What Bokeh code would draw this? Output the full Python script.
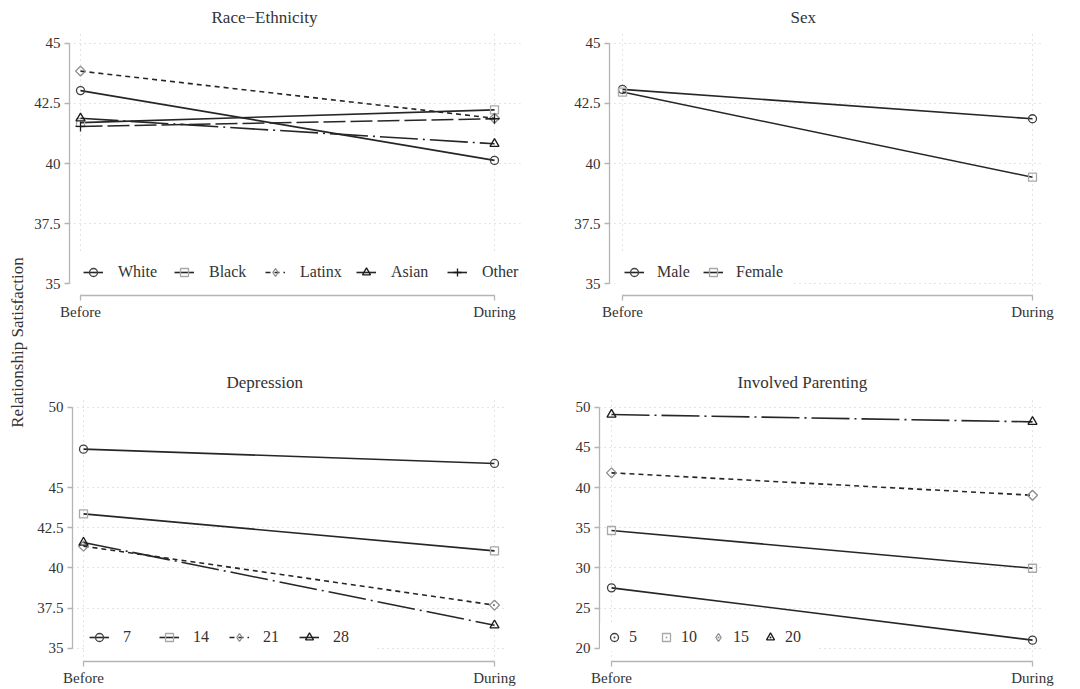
from bokeh.plotting import figure
from bokeh.models import (FixedTicker, NumeralTickFormatter, Legend, LegendItem,
                          Label, Range1d)
from bokeh.layouts import row, column
from bokeh.embed import file_html
from bokeh.resources import INLINE
import math

# ---------------- data ----------------
periods = [0, 1]
period_labels = ["Before", "During"]

race_groups = ["White", "Black", "Latinx", "Asian", "Other"]
race_before = [43.03, 41.70, 43.84, 41.88, 41.54]
race_during = [40.13, 42.23, 41.88, 40.82, 41.86]

sex_groups = ["Male", "Female"]
sex_before = [43.08, 42.97]
sex_during = [41.86, 39.43]

dep_groups = ["7", "14", "21", "28"]
dep_before = [47.39, 43.36, 41.35, 41.58]
dep_during = [46.50, 41.06, 37.68, 36.43]

par_groups = ["5", "10", "15", "20"]
par_before = [27.51, 34.65, 41.83, 49.09]
par_during = [21.00, 29.95, 39.04, 48.18]

race_ticks = [35, 37.5, 40, 42.5, 45]
sex_ticks = [35, 37.5, 40, 42.5, 45]
dep_ticks = [35, 37.5, 40, 42.5, 45, 50]
par_ticks = [20, 25, 30, 35, 40, 45, 50]

# ---------------- styles ----------------
FONT = "Liberation Serif"
TXT = "#333333"
AXC = "#b4b4b4"
GRIDC = "#c8c8c8"
LINEC = "#262626"

SOLID, SHORT, DASHDOT, LONG = "solid", "5 4", "38 5 2 5", "22 5"
# marker: (plot marker, legend marker, colour, size, angle)
MK = {
    "circle": ("circle", "circle", "#404040", 8, 0.0),
    "square": ("square", "square", "#a8a8a8", 8, 0.0),
    "diamond": ("square", "diamond", "#8c8c8c", 7, math.pi / 4),
    "triangle": ("triangle", "triangle", "#1a1a1a", 9, 0.0),
    "cross": ("cross", "cross", "#1a1a1a", 10, 0.0),
}
DOT = {"circle": "circle_dot", "square": "square_dot", "diamond": "diamond_dot",
       "triangle": "triangle_dot"}
race_styles = [("circle", SOLID), ("square", SOLID), ("diamond", SHORT),
               ("triangle", DASHDOT), ("cross", LONG)]
sex_styles = [("circle", SOLID), ("square", SOLID)]
dep_styles = [("circle", SOLID), ("square", SOLID), ("diamond", SHORT),
              ("triangle", DASHDOT)]
par_styles = [("circle", SOLID), ("square", SOLID), ("diamond", SHORT),
              ("triangle", DASHDOT)]


def make_panel(title, groups, before, during, styles, yticks, xr, yr, w, h,
               borders, title_offset, leg, dot_legend=False):
    bl, bt, br, bb = borders
    p = figure(width=w, height=h, x_range=Range1d(*xr), y_range=Range1d(*yr),
               output_backend="svg", toolbar_location=None,
               min_border_left=bl, min_border_top=bt, min_border_right=br,
               min_border_bottom=bb, title=title)
    p.outline_line_color = None
    p.background_fill_color = "white"
    p.title.align = "left"
    p.title.offset = title_offset
    p.title.standoff = 11
    p.title.text_font = FONT
    p.title.text_font_size = "17px"
    p.title.text_font_style = "normal"
    p.title.text_color = TXT

    # axes
    p.xaxis.ticker = FixedTicker(ticks=periods)
    p.xaxis.major_label_overrides = {periods[i]: period_labels[i] for i in range(2)}
    p.xaxis.bounds = (periods[0], periods[-1])
    p.yaxis.ticker = FixedTicker(ticks=yticks)
    p.yaxis.formatter = NumeralTickFormatter(format="0.[0]")
    p.yaxis.bounds = (yticks[0], yticks[-1])
    for ax in (p.xaxis, p.yaxis):
        ax.axis_line_color = AXC
        ax.axis_line_width = 1.3
        ax.major_tick_line_color = AXC
        ax.major_tick_line_width = 1.3
        ax.minor_tick_line_color = None
        ax.major_tick_in = 0
        ax.major_label_text_font = FONT
        ax.major_label_text_font_size = "15px"
        ax.major_label_text_color = TXT
    p.yaxis.major_tick_out = 5
    p.yaxis.major_label_standoff = 4
    p.xaxis.major_tick_out = 5
    p.xaxis.major_label_standoff = 3

    # grid
    p.xgrid.ticker = FixedTicker(ticks=periods)
    p.ygrid.ticker = FixedTicker(ticks=yticks)
    for g in (p.xgrid, p.ygrid):
        g.grid_line_color = GRIDC
        g.grid_line_dash = "1 4"
        g.grid_line_width = 1

    items = []
    for i, gname in enumerate(groups):
        mk, dash = styles[i]
        mtype, ltype, mcol, msize, mang = MK[mk]
        ys = [before[i], during[i]]
        ln = p.line(periods, ys, line_color=LINEC, line_width=1.6, line_dash=dash)
        sc = p.scatter(periods, ys, marker=mtype, size=msize, angle=mang,
                       line_color=mcol, fill_color=None, line_width=1.3)
        if dot_legend:
            dm = p.scatter(periods, ys, marker=DOT[mk], size=msize,
                           line_color=mcol, fill_color=None, line_width=1.3,
                           visible=False)
            items.append(LegendItem(label=gname, renderers=[dm]))
        elif ltype != mtype:
            lm = p.scatter(periods, ys, marker=ltype, size=msize,
                           line_color=mcol, fill_color=None, line_width=1.3,
                           visible=False)
            items.append(LegendItem(label=gname, renderers=[ln, lm]))
        else:
            items.append(LegendItem(label=gname, renderers=[ln, sc]))

    legend = Legend(items=items, orientation="horizontal", location=leg["loc"],
                    padding=leg["padding"], spacing=0, margin=0,
                    glyph_width=leg["gw"], glyph_height=leg["gh"],
                    label_standoff=leg["standoff"], label_width=leg["lw"],
                    label_text_font=FONT, label_text_font_size="16px",
                    label_text_color=TXT, background_fill_color="white",
                    background_fill_alpha=1.0, border_line_color="white",
                    border_line_width=1, click_policy="none",
                    inactive_fill_alpha=0)
    p.add_layout(legend, "center")
    return p


p1 = make_panel("Race\u2212Ethnicity", race_groups, race_before, race_during,
                race_styles, race_ticks, (-0.0266, 1.0628), (34.514, 45.445),
                524, 340, (41, 32, 32, 45), 142,
                dict(loc=(5, 3), padding=8, gw=20, gh=22, standoff=15, lw=56))
p2 = make_panel("Sex", sex_groups, sex_before, sex_during, sex_styles,
                sex_ticks, (-0.0317, 1.0268), (34.514, 45.445),
                528, 340, (57, 32, 37, 45), 181,
                dict(loc=(6, 3), padding=8, gw=20, gh=22, standoff=13, lw=46))
p3 = make_panel("Depression", dep_groups, dep_before, dep_during, dep_styles,
                dep_ticks, (-0.02676, 1.02676), (34.172, 50.604),
                524, 349, (44, 57, 47, 28), 154,
                dict(loc=(12, 8), padding=4, gw=20, gh=22, standoff=14, lw=36))
p4 = make_panel("Involved Parenting", par_groups, par_before, par_during,
                par_styles, par_ticks, (-0.0285, 1.0261), (18.34, 51.21),
                528, 349, (47, 57, 37, 28), 138,
                dict(loc=(1, 10), padding=3, gw=20, gh=20, standoff=5, lw=27),
                dot_legend=True)

# y-axis title column
lab = figure(width=28, height=689, x_range=Range1d(0, 28), y_range=Range1d(0, 689),
             output_backend="svg", toolbar_location=None,
             x_axis_location=None, y_axis_location=None,
             min_border_left=0, min_border_right=0, min_border_top=0,
             min_border_bottom=0)
lab.outline_line_color = None
lab.xgrid.visible = False
lab.ygrid.visible = False
lab.add_layout(Label(x=17, y=689 - 342, text="Relationship Satisfaction",
                     angle=math.pi / 2, text_align="center", text_baseline="middle",
                     text_font=FONT, text_font_size="17px", text_color=TXT))

layout = row(lab, column(row(p1, p2), row(p3, p4)))

open("out.html", "w").write(file_html(layout, INLINE))
